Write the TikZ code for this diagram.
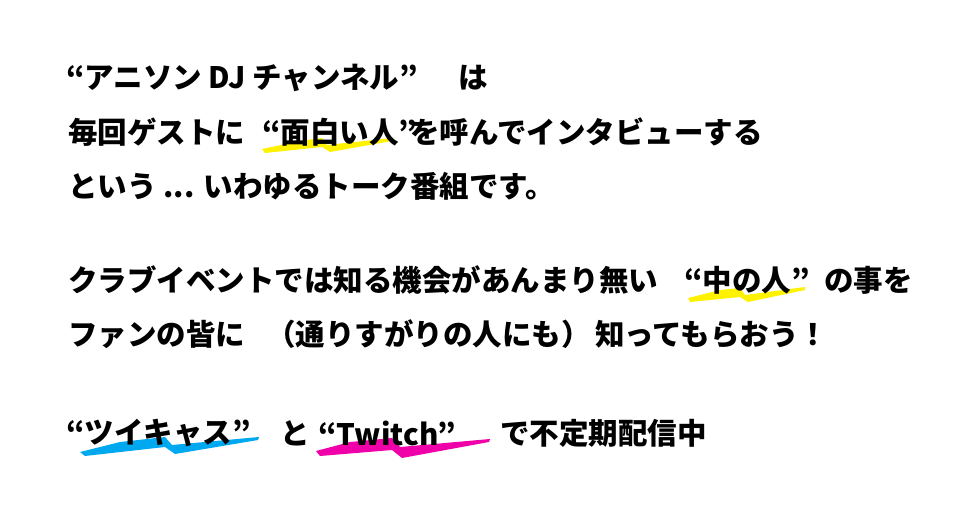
\documentclass[tikz,border=0pt]{standalone}
\usepackage{fontspec}
\newfontfamily\cjk{Noto Sans CJK JP}
\begin{document}
\begin{tikzpicture}[x=1pt,y=-1pt,
  txt/.style={anchor=west,inner sep=0pt,font=\cjk\bfseries\fontsize{29.5}{29.5}\selectfont}]
\useasboundingbox (0,0) rectangle (980,521);
\definecolor{hlY}{HTML}{FFF200}\definecolor{hlB}{HTML}{00A8F0}\definecolor{hlP}{HTML}{F000A8}
% swooshes
\fill[hlY] (262,149)--(300,141)--(322,138)--(327,145)--(392,138)--(392,141)--(330,152)--(322,147)--(265,153)--cycle;
\fill[hlY] (688,298)--(720,290)--(740,288)--(745,295)--(805,287)--(805,290)--(748,302)--(740,297)--(690,302)--cycle;
\fill[hlB] (80,452)--(120,442)--(165,437)--(172,445)--(259,437)--(258,440)--(175,454)--(165,447)--(85,456)--cycle;
\fill[hlP] (316,451)--(350,442)--(392,438)--(400,447)--(490,439)--(489,442)--(402,458)--(392,450)--(320,456)--cycle;
\node[txt] (l1a) at (66,78) {“アニソン DJ チャンネル”};
\node[txt] (l1b) at (458,78) {は};
\node[txt] (l2a) at (68,132) {毎回ゲストに};
\node[txt] (l2b) at (262,132) {“面白い人”};
\node[txt] (l2c) at (410,132) {を呼んでインタビューする};
\node[txt] (l3) at (68,186) {という ... いわゆるトーク番組です。};
\node[txt] (l4a) at (68,280) {クラブイベントでは知る機会があんまり無い};
\node[txt] (l4b) at (684,280) {“中の人”};
\node[txt] (l4c) at (824,280) {の事を};
\node[txt] (l5a) at (68,334) {ファンの皆に};
\node[txt] (l5b) at (266,334) {（通りすがりの人にも）};
\node[txt] (l5c) at (595,334) {知ってもらおう！};
\node[txt] (l6a) at (66,433) {“ツイキャス”};
\node[txt] (l6b) at (280,433) {と};
\node[txt] (l6c) at (318,433) {“Twitch”};
\node[txt] (l6d) at (500,433) {で不定期配信中};
\end{tikzpicture}
\end{document}
